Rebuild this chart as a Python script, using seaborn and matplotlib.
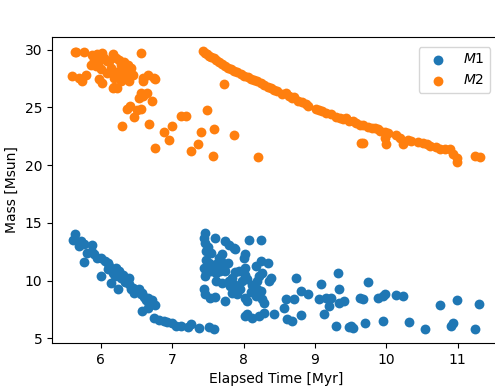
import matplotlib
matplotlib.use("Agg")
import matplotlib.pyplot as plt
import seaborn as sns
import pandas as pd

# M1 (primary mass) points: elapsed time [Myr], mass [Msun]
m1_time = [5.63, 5.61, 5.72, 5.76, 5.88, 5.80, 5.88, 5.91, 5.76, 6.00, 6.06, 6.10, 6.00, 6.21, 6.26,
           6.31, 6.17, 6.14, 6.38, 6.40, 6.42, 6.24, 6.47, 6.53, 6.56, 6.61, 6.66, 6.71, 6.76, 6.57,
           6.66, 6.75, 6.89, 6.99, 7.13, 7.22, 7.27, 7.37, 7.51, 7.58,
           5.70, 5.95, 6.12, 6.20, 6.28, 6.34, 6.45, 6.50, 6.58, 6.63, 6.68, 6.82, 6.93, 7.05, 6.40, 6.10,
           7.46, 7.45, 7.46, 7.60, 7.74, 7.79, 7.86, 7.88, 7.48, 7.55, 8.07, 8.24, 8.02, 8.00, 7.65,
           7.69, 7.62, 7.72, 7.44, 7.48, 7.46, 7.55, 7.62, 7.67, 7.74, 8.24, 8.34, 8.17, 8.02, 7.93,
           7.88, 7.84, 7.79, 7.81, 8.02, 8.05, 7.98, 8.26, 8.21, 8.19, 8.38, 8.36, 8.73, 9.08, 9.32,
           9.34, 7.44, 7.46, 7.53, 7.60, 7.74, 7.84, 7.91, 8.02, 8.05, 8.19, 8.24, 8.17, 8.26, 8.28,
           8.59, 8.71, 8.80, 8.90, 8.57, 9.06, 9.15, 9.22, 9.20, 9.13, 9.34, 9.41, 9.63, 8.05, 8.02,
           8.12, 8.21, 8.28, 8.42, 8.61, 8.68, 8.80, 9.30, 9.48,
           7.50, 7.47, 7.58, 7.70, 7.78, 7.52, 7.95, 7.88, 8.10, 8.12, 7.62, 7.70,
           9.74, 9.67, 9.88, 9.95, 9.98, 10.14, 10.23, 10.76, 10.99, 11.30, 9.51, 9.53, 9.70, 9.96,
           10.32, 10.54, 10.91, 10.94, 11.25]
m1_mass = [14.08, 13.5, 13.4, 13.2, 13.1, 12.4, 12.5, 12.3, 11.6, 12.0, 11.7, 11.55, 10.4, 11.1, 10.8,
           10.5, 10.7, 9.8, 10.1, 9.7, 9.25, 9.25, 8.95, 9.25, 8.8, 8.6, 8.5, 8.3, 7.85, 7.4,
           7.65, 6.8, 6.5, 6.35, 6.05, 6.0, 6.2, 5.9, 6.0, 5.8,
           13.0, 12.0, 11.3, 10.4, 10.2, 9.9, 9.4, 9.1, 8.9, 8.3, 8.0, 6.6, 6.4, 6.1, 10.2, 11.0,
           14.1, 13.7, 13.3, 13.7, 13.4, 13.1, 12.85, 12.75, 12.55, 12.4, 13.5, 13.5, 12.3, 12.0, 12.0,
           11.7, 11.4, 11.1, 11.1, 10.7, 10.4, 10.8, 10.7, 10.8, 10.8, 11.7, 11.5, 11.25, 11.1, 10.8,
           10.75, 10.25, 9.95, 9.5, 10.5, 10.1, 9.95, 10.7, 10.4, 9.95, 10.25, 9.95, 10.25, 9.7, 10.7,
           9.25, 9.25, 8.8, 8.5, 8.6, 8.2, 8.95, 8.8, 8.5, 8.2, 9.25, 9.1, 8.65, 8.4, 8.1,
           8.4, 8.45, 9.1, 8.8, 7.65, 8.4, 8.5, 8.5, 7.8, 7.1, 8.1, 8.2, 8.5, 7.1, 6.95,
           6.8, 6.95, 7.2, 7.1, 6.7, 6.5, 7.0, 6.05, 6.0,
           12.9, 11.8, 11.2, 12.3, 11.5, 11.5, 9.3, 9.6, 9.0, 9.6, 10.0, 9.8,
           9.9, 8.4, 8.5, 8.7, 8.8, 8.75, 8.7, 7.85, 8.3, 8.0, 6.05, 5.9, 6.3, 6.5,
           6.4, 5.85, 6.1, 6.3, 5.85]

# M2 (secondary mass) points
m2_time = [5.63, 5.76, 5.65, 5.88, 5.95, 6.02, 6.17, 5.91, 5.98, 6.05, 6.09, 6.21, 6.26, 5.86, 5.93,
           6.28, 6.38, 6.42, 6.14, 6.21, 6.31, 6.38, 6.09, 6.19, 6.28, 6.35, 6.40, 6.28, 6.19, 6.02,
           5.79, 5.74, 5.60, 5.69, 6.56, 6.59, 6.66, 6.75, 6.59, 6.56, 6.64, 6.59, 6.17, 6.22, 6.76,
           6.53, 6.71, 6.41, 6.37, 6.56, 6.51, 6.46, 6.30, 6.67, 6.89, 7.00, 6.95, 6.76, 7.12, 7.20,
           7.49, 7.40, 7.59, 7.36, 7.27, 7.57, 7.73, 7.86, 8.20,
           6.00, 6.12, 6.33, 5.97, 6.45, 6.25,
           7.43, 7.46, 7.49, 7.52, 7.55, 7.58, 7.62, 7.66, 7.70, 7.74, 7.78, 7.82, 7.87, 7.91, 7.96,
           8.01, 8.06, 8.11, 8.15, 8.19, 8.24, 8.29, 8.34, 8.38, 8.42, 8.47, 8.54, 8.59, 8.64, 8.68,
           8.71, 8.77, 8.82, 8.88, 8.90, 9.02, 9.06, 9.10, 9.16, 9.22, 9.30, 9.35, 9.40, 9.44, 9.48,
           9.53, 9.58, 9.63, 9.67, 9.74, 9.80, 9.84, 9.88, 9.92, 9.98, 10.02, 10.14, 10.19, 10.31,
           10.35, 10.45, 10.52, 10.57, 10.62, 10.70, 10.76, 10.83, 10.90, 10.94, 10.99, 10.99,
           11.25, 11.31,
           9.65, 9.67, 10.00, 10.24, 9.98]
m2_mass = [29.77, 29.83, 29.77, 29.57, 29.65, 29.7, 29.65, 29.13, 28.99, 29.28, 28.99, 29.28, 29.07, 28.7, 28.55,
           28.7, 28.7, 28.4, 28.4, 28.1, 28.1, 27.98, 27.98, 27.55, 27.7, 27.55, 27.26, 27.26, 26.8, 27.1,
           27.8, 27.26, 27.75, 27.55, 29.7, 27.55, 27.84, 27.55, 27.26, 26.25, 26.25, 25.96, 26.7, 26.7, 27.5,
           25.8, 25.6, 25.15, 24.9, 24.9, 24.75, 24.2, 23.4, 23.6, 22.9, 23.4, 22.2, 21.5, 24.3, 24.3,
           24.75, 22.9, 23.1, 21.8, 21.2, 20.8, 27.0, 22.6, 20.7,
           28.3, 29.0, 28.9, 27.5, 27.8, 27.9,
           29.9, 29.75, 29.6, 29.5, 29.4, 29.25, 29.07, 28.9, 28.75, 28.6, 28.45, 28.35, 28.2, 28.1, 27.9,
           27.75, 27.6, 27.45, 27.35, 27.26, 27.1, 26.95, 26.8, 26.65, 26.5, 26.4, 26.2, 26.25, 26.0, 25.8,
           25.9, 25.6, 25.45, 25.3, 25.15, 24.9, 24.8, 24.7, 24.55, 24.4, 24.2, 24.1, 24.0, 24.1, 23.8,
           23.8, 23.65, 23.5, 23.5, 23.3, 23.25, 23.2, 23.1, 23.0, 22.9, 22.8, 22.6, 22.35, 22.2,
           22.1, 22.0, 21.9, 21.8, 21.7, 21.6, 21.4, 21.4, 21.4, 21.0, 20.6, 20.3,
           20.8, 20.7,
           21.9, 21.9, 21.8, 21.8, 22.35]

series_labels = ["$M1$", "$M2$"]
y_ticks = [5, 10, 15, 20, 25, 30]
x_ticks = [6, 7, 8, 9, 10, 11]

df1 = pd.DataFrame({"t": m1_time, "m": m1_mass})
df2 = pd.DataFrame({"t": m2_time, "m": m2_mass})

fig = plt.figure(figsize=(4.95, 3.9), dpi=100)
ax = fig.add_axes([52 / 495, 47 / 390, 448 / 495, 306 / 390])

sns.scatterplot(data=df1, x="t", y="m", ax=ax, color="#1f77b4", s=50, linewidth=0,
                label=series_labels[0])
sns.scatterplot(data=df2, x="t", y="m", ax=ax, color="#ff7f0e", s=50, linewidth=0,
                label=series_labels[1])

ax.set_xticks(x_ticks)
ax.set_yticks(y_ticks)
ax.set_xlabel("Elapsed Time [Myr]")
ax.set_ylabel("Mass [Msun]")
ax.legend(loc="upper right", borderaxespad=0.7)

fig.savefig("out.png", dpi=100)
